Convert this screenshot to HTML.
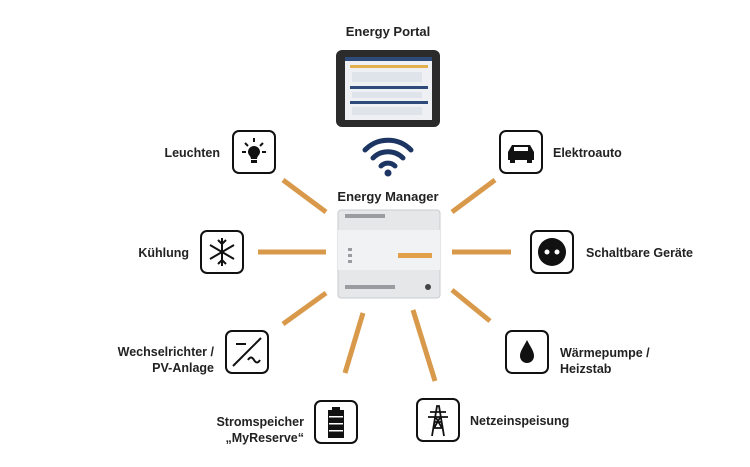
<!DOCTYPE html>
<html><head><meta charset="utf-8"><style>
body{margin:0;width:750px;height:467px;background:#fff;position:relative;overflow:hidden;font-family:"Liberation Sans",sans-serif}
.t{position:absolute;font-weight:bold;font-size:12.5px;color:#222;line-height:16px}
.r{text-align:right}
.ic{position:absolute;width:40px;height:40px;border:2.5px solid #111;border-radius:7px;background:#fff}
</style></head><body>
<svg width="750" height="467" style="position:absolute;left:0;top:0">
<g stroke="#d9994a" stroke-width="5" stroke-linecap="butt">
<line x1="283" y1="180" x2="326" y2="212"/>
<line x1="258" y1="252" x2="326" y2="252"/>
<line x1="283" y1="324" x2="326" y2="293"/>
<line x1="363" y1="313" x2="345" y2="373"/>
<line x1="413" y1="310" x2="435" y2="381"/>
<line x1="452" y1="290" x2="490" y2="321"/>
<line x1="452" y1="252" x2="511" y2="252"/>
<line x1="452" y1="212" x2="495" y2="180"/>
</g>
<!-- tablet -->
<rect x="336" y="50" width="104" height="77" rx="6" fill="#2b2b2b"/>
<rect x="345" y="57" width="87" height="63" fill="#eef0f4"/>
<rect x="345" y="57" width="87" height="4" fill="#2d4a7a"/>
<rect x="350" y="65" width="78" height="3" fill="#e3b04f"/>
<rect x="350" y="86" width="78" height="3" fill="#2d4a7a"/>
<rect x="350" y="101" width="78" height="3" fill="#2d4a7a"/>
<rect x="352" y="72" width="70" height="10" fill="#dfe3ea"/>
<rect x="352" y="92" width="70" height="6" fill="#dfe3ea"/>
<rect x="352" y="107" width="70" height="8" fill="#dfe3ea"/>
<!-- wifi -->
<g fill="none" stroke="#1d3563" stroke-width="5" stroke-linecap="round">
<path d="M365 150 A32 32 0 0 1 411 150"/>
<path d="M373 158 A21 21 0 0 1 403 158"/>
<path d="M381 166 A10 10 0 0 1 395 166"/>
</g>
<circle cx="388" cy="173" r="3.5" fill="#1d3563"/>
<!-- device -->
<rect x="338" y="210" width="102" height="88" rx="3" fill="#e6e7e9" stroke="#c9cbce"/>
<rect x="338" y="230" width="102" height="40" fill="#f1f2f3"/>
<g fill="#9a9c9f"><rect x="345" y="214" width="40" height="4"/><rect x="345" y="285" width="50" height="4"/><rect x="348" y="248" width="4" height="3"/><rect x="348" y="254" width="4" height="3"/><rect x="348" y="260" width="4" height="3"/></g>
<rect x="398" y="253" width="34" height="5" fill="#e3a04a"/>
<circle cx="428" cy="287" r="3" fill="#444"/>
<!-- icons -->
</svg>
<div class="t" style="left:338px;top:24px;width:100px;text-align:center;font-size:13px">Energy Portal</div>
<div class="t" style="left:330px;top:189px;width:116px;text-align:center;font-size:13px">Energy Manager</div>

<div class="t r" style="right:530px;top:145px">Leuchten</div>
<div class="ic" style="left:232px;top:130px"><svg width="40" height="40"><path d="M14 20a6 6 0 1 1 12 0c0 3-3 4-3 7h-6c0-3-3-4-3-7z" fill="#111"/><rect x="17" y="28" width="6" height="3" fill="#111"/><g stroke="#111" stroke-width="2"><line x1="20" y1="6" x2="20" y2="10"/><line x1="8" y1="20" x2="12" y2="20"/><line x1="28" y1="20" x2="32" y2="20"/><line x1="11" y1="11" x2="14" y2="14"/><line x1="29" y1="11" x2="26" y2="14"/></g></svg></div>

<div class="t r" style="right:561px;top:245px">Kühlung</div>
<div class="ic" style="left:200px;top:230px"><svg width="40" height="40"><g stroke="#111" stroke-width="2" fill="none"><line x1="20" y1="6" x2="20" y2="34"/><line x1="8" y1="13" x2="32" y2="27"/><line x1="8" y1="27" x2="32" y2="13"/><path d="M16 8l4 4 4-4M16 32l4-4 4 4"/></g></svg></div>

<div class="t r" style="right:536px;top:344px">Wechselrichter /<br>PV-Anlage</div>
<div class="ic" style="left:225px;top:330px"><svg width="40" height="40"><g stroke="#111" stroke-width="2" fill="none"><line x1="6" y1="34" x2="34" y2="6"/><line x1="9" y1="12" x2="19" y2="12"/><path d="M21 28q3-5 6 0t6 0"/></g></svg></div>

<div class="t r" style="right:446px;top:414px">Stromspeicher<br>„MyReserve“</div>
<div class="ic" style="left:314px;top:400px"><svg width="40" height="40"><rect x="16" y="5" width="8" height="3" fill="#111"/><rect x="12" y="8" width="16" height="28" fill="#111"/><g fill="#fff"><rect x="13" y="14" width="14" height="1.5"/><rect x="13" y="21" width="14" height="1.5"/><rect x="13" y="28" width="14" height="1.5"/></g></svg></div>

<div class="ic" style="left:416px;top:398px"><svg width="40" height="40"><g stroke="#111" stroke-width="1.8" fill="none"><path d="M14 36L19 6h2l5 30M16 22L24 22M15 28L25 28M12 12h16M10 17h20M17 16l7 12M23 16l-7 12"/></g></svg></div>
<div class="t" style="left:470px;top:413px">Netzeinspeisung</div>

<div class="ic" style="left:505px;top:330px"><svg width="40" height="40"><path d="M20 8C16 16 13 19 13 24a7 7 0 0 0 14 0c0-5-3-8-7-16z" fill="#111"/></svg></div>
<div class="t" style="left:560px;top:345px">Wärmepumpe /<br>Heizstab</div>

<div class="ic" style="left:530px;top:230px"><svg width="40" height="40"><circle cx="20" cy="20" r="14" fill="#111"/><circle cx="15" cy="20" r="2.5" fill="#fff"/><circle cx="25" cy="20" r="2.5" fill="#fff"/></svg></div>
<div class="t" style="left:586px;top:245px">Schaltbare Geräte</div>

<div class="ic" style="left:499px;top:130px"><svg width="40" height="40"><path d="M7 20l4-7h18l4 7v8H7z" fill="#111"/><rect x="9" y="27" width="5" height="4" fill="#111"/><rect x="26" y="27" width="5" height="4" fill="#111"/><rect x="13" y="15" width="14" height="4" fill="#fff"/></svg></div>
<div class="t" style="left:553px;top:145px">Elektroauto</div>
</body></html>
